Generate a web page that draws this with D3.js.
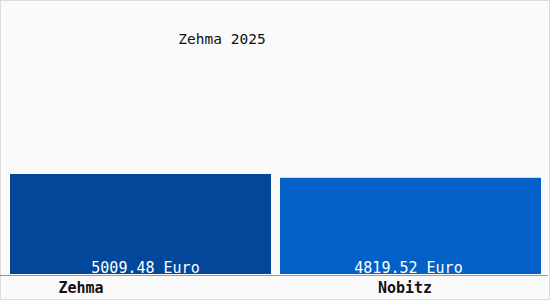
<!DOCTYPE html>
<html>
<head>
<meta charset="utf-8">
<script src="https://cdn.jsdelivr.net/npm/d3@7"></script>
<style>
	html, body { margin: 0; padding: 0; background: #fafafa; }
	svg { display: block; }
</style>
</head>
<body>
<script>
// chart values
const title = "Zehma 2025";
const categories = ["Zehma", "Nobitz"];
const values = [5009.48, 4819.52];
const unit = "Euro";
const colors = ["#02479a", "#0360c6"];

const width = 550, height = 300;
const font = "'DejaVu Sans Mono', monospace";

const svg = d3.select("body").append("svg")
	.attr("width", width)
	.attr("height", height);

// background with thin frame
svg.append("rect")
	.attr("x", 0.5).attr("y", 0.5)
	.attr("width", width - 1).attr("height", height - 1)
	.attr("fill", "#fafafa")
	.attr("stroke", "#dcdcdc");

// scales
let x = d3.scaleBand()
	.domain(categories)
	.range([10, 541])
	.paddingInner(0.0333)
	.paddingOuter(0);

let y = d3.scaleLinear()
	.domain([0, d3.max(values) * 2])
	.range([274, 74]);

// the category labels sit a bit off the bar centres in the original
let xlabel = d3.scalePoint()
	.domain(categories)
	.range([81, 405]);

svg.append("text")
	.attr("x", 222).attr("y", 44)
	.attr("text-anchor", "middle")
	.attr("font-family", font)
	.attr("font-size", 14.5)
	.attr("fill", "#111")
	.text(title);

svg.append("g").selectAll("rect")
	.data(values)
	.join("rect")
	.attr("x", (d, i) => x(categories[i]))
	.attr("width", x.bandwidth())
	.attr("y", d => y(d))
	.attr("height", d => y(0) - y(d))
	.attr("fill", (d, i) => colors[i]);

svg.append("g").selectAll("text")
	.data(values)
	.join("text")
	.attr("x", (d, i) => x(categories[i]) + x.bandwidth() / 2 + (i == 0 ? 5 : -2))
	.attr("y", 273)
	.attr("text-anchor", "middle")
	.attr("font-family", font)
	.attr("font-size", 15)
	.attr("fill", "#fff")
	.text(d => d3.format(".2f")(d) + " " + unit);

// baseline
svg.append("line")
	.attr("x1", 0).attr("x2", 548)
	.attr("y1", y(0) + 1.5).attr("y2", y(0) + 1.5)
	.attr("stroke", "#999");

svg.append("g").selectAll("text")
	.data(categories)
	.join("text")
	.attr("x", d => xlabel(d))
	.attr("y", 293)
	.attr("text-anchor", "middle")
	.attr("font-family", font)
	.attr("font-size", 15)
	.attr("font-weight", "bold")
	.attr("fill", "#111")
	.text(d => d);
</script>
</body>
</html>
